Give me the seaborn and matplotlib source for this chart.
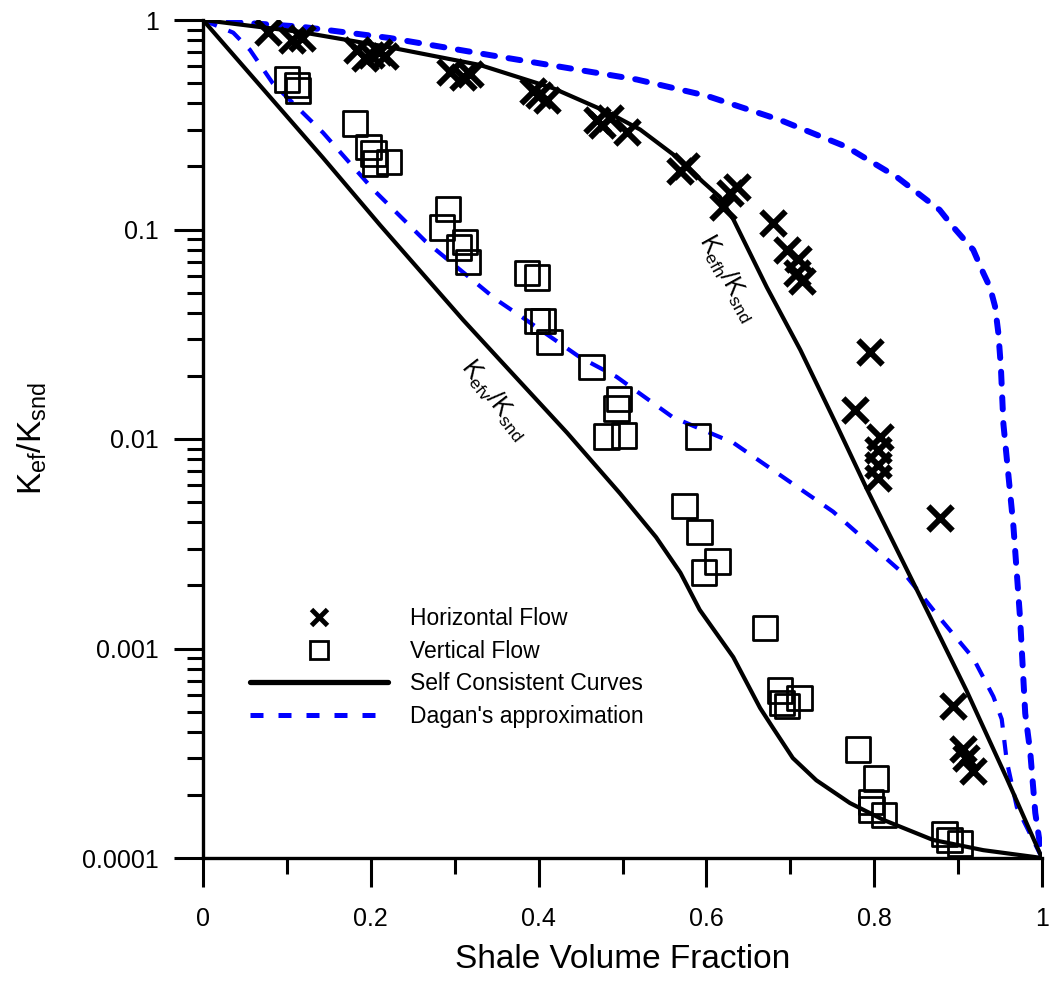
import matplotlib
matplotlib.use("Agg")
import matplotlib.pyplot as plt
import seaborn as sns
from matplotlib.lines import Line2D
from matplotlib.ticker import FixedLocator, FixedFormatter, LogLocator, NullFormatter, MultipleLocator

# ---------------- data ----------------
horiz_x = [0.077, 0.106, 0.118, 0.184, 0.193, 0.200, 0.210, 0.217,
           0.294, 0.310, 0.318, 0.393, 0.400, 0.410,
           0.470, 0.476, 0.485, 0.505, 0.568, 0.576,
           0.620, 0.628, 0.636, 0.679, 0.696, 0.709, 0.708, 0.714,
           0.795, 0.777, 0.807, 0.805, 0.804, 0.804, 0.878,
           0.894, 0.906, 0.918, 0.910]
horiz_y = [0.88, 0.80, 0.82, 0.72, 0.66, 0.68, 0.70, 0.67,
           0.565, 0.535, 0.55, 0.46, 0.44, 0.415,
           0.333, 0.315, 0.34, 0.292, 0.19, 0.20,
           0.128, 0.15, 0.16, 0.107, 0.080, 0.072, 0.062, 0.057,
           0.026, 0.0138, 0.0102, 0.0089, 0.0075, 0.0065, 0.0042,
           0.00053, 0.00033, 0.00026, 0.00030]

vert_x = [0.100, 0.112, 0.113, 0.181, 0.197, 0.203, 0.205, 0.222,
          0.292, 0.285, 0.312, 0.305, 0.316, 0.386, 0.398,
          0.398, 0.405, 0.413, 0.463, 0.496, 0.493, 0.481, 0.502,
          0.590, 0.574, 0.592, 0.597, 0.613, 0.670,
          0.688, 0.711, 0.696, 0.690,
          0.781, 0.802, 0.797, 0.796, 0.812,
          0.884, 0.890, 0.902]
vert_y = [0.52, 0.49, 0.46, 0.32, 0.248, 0.23, 0.207, 0.21,
          0.125, 0.102, 0.087, 0.082, 0.070, 0.062, 0.059,
          0.0366, 0.0366, 0.029, 0.022, 0.0155, 0.014, 0.0103, 0.0104,
          0.0103, 0.0048, 0.0036, 0.0023, 0.0026, 0.00125,
          0.00063, 0.00058, 0.00053, 0.00055,
          0.00033, 0.00024, 0.00017, 0.000185, 0.00016,
          0.00013, 0.000122, 0.000117]

sc_h_x = [0.0, 0.116, 0.223, 0.33, 0.417, 0.481, 0.521, 0.569, 0.595, 0.616,
          0.632, 0.648, 0.672, 0.712, 0.755, 0.791, 0.851, 0.91, 0.958, 1.0]
sc_h_y = [1.0, 0.877, 0.74, 0.61, 0.473, 0.365, 0.30, 0.215, 0.17, 0.143,
          0.112, 0.083, 0.053, 0.0266, 0.0117, 0.0058, 0.0019, 0.00063, 0.00024, 0.0001]

sc_v_x = [0.0, 0.143, 0.211, 0.31, 0.354, 0.41, 0.434, 0.497, 0.54, 0.569,
          0.592, 0.632, 0.664, 0.679, 0.703, 0.731, 0.771, 0.811, 0.87, 0.93, 1.0]
sc_v_y = [1.0, 0.22, 0.105, 0.037, 0.0238, 0.0136, 0.0107, 0.0055, 0.0034, 0.0023,
          0.00153, 0.00091, 0.00052, 0.00042, 0.0003, 0.000235, 0.000183, 0.000152,
          0.000122, 0.000109, 0.0001]

dg_h_x = [0.0, 0.116, 0.223, 0.342, 0.517, 0.6, 0.688, 0.767, 0.827, 0.878,
          0.894, 0.918, 0.93, 0.938, 0.944, 0.948, 0.951, 0.954, 0.966, 0.974,
          0.98, 0.986, 0.992, 1.0]
dg_h_y = [1.0, 0.93, 0.82, 0.68, 0.52, 0.435, 0.333, 0.248, 0.178, 0.124,
          0.103, 0.08, 0.062, 0.053, 0.043, 0.032, 0.022, 0.0118, 0.0038, 0.00137,
          0.00049, 0.00032, 0.000164, 0.0001]

dg_v_x = [0.0, 0.036, 0.056, 0.083, 0.143, 0.203, 0.265, 0.342, 0.354, 0.381,
          0.449, 0.493, 0.56, 0.632, 0.751, 0.839, 0.878, 0.918, 0.942, 0.952,
          0.958, 0.97, 1.0]
dg_v_y = [1.0, 0.87, 0.72, 0.5, 0.29, 0.155, 0.088, 0.049, 0.045, 0.038,
          0.0246, 0.0198, 0.0127, 0.0096, 0.0045, 0.0022, 0.0014, 0.0009, 0.00059, 0.00046,
          0.00029, 0.000175, 0.0001]

x_ticks = [0, 0.2, 0.4, 0.6, 0.8, 1.0]
x_tick_labels = ["0", "0.2", "0.4", "0.6", "0.8", "1"]
y_ticks = [1e-4, 1e-3, 1e-2, 1e-1, 1]
y_tick_labels = ["0.0001", "0.001", "0.01", "0.1", "1"]

legend_labels = ["Horizontal Flow", "Vertical Flow", "Self Consistent Curves",
                 "Dagan's approximation"]

# ---------------- style ----------------
sns.set_theme(style="ticks", rc={
    "axes.edgecolor": "black", "xtick.color": "black", "ytick.color": "black",
    "text.color": "black", "axes.labelcolor": "black",
})
plt.rcParams["font.family"] = ["Liberation Sans", "DejaVu Sans"]
plt.rcParams["mathtext.default"] = "regular"

W, H = 1050, 984
fig = plt.figure(figsize=(W / 100, H / 100), dpi=100)
ax = fig.add_axes([203 / W, 1 - 858 / H, 839 / W, 838 / H])
ax.set_yscale("log")

BLUE = "#0000FF"

sns.lineplot(x=dg_h_x, y=dg_h_y, ax=ax, color=BLUE, linewidth=4.3,
             linestyle=(0, (2.0, 2.3)), dash_capstyle="round",
             estimator=None, sort=False)
sns.lineplot(x=dg_v_x, y=dg_v_y, ax=ax, color=BLUE, linewidth=3.0,
             linestyle=(0, (3.6, 3.0)), estimator=None, sort=False)
sns.lineplot(x=sc_h_x, y=sc_h_y, ax=ax, color="black", linewidth=3.0,
             estimator=None, sort=False)
sns.lineplot(x=sc_v_x, y=sc_v_y, ax=ax, color="black", linewidth=3.0,
             estimator=None, sort=False)

sns.scatterplot(x=horiz_x, y=horiz_y, ax=ax, marker="x", color="black",
                s=17.5 ** 2, linewidth=4.3, zorder=5)
sns.scatterplot(x=vert_x, y=vert_y, ax=ax, marker="s", color="black",
                facecolor="none", edgecolor="black", s=17.6 ** 2,
                linewidth=2.0, zorder=5)

ax.set_xlim(0, 1)
ax.set_ylim(1e-4, 1)

# spines / ticks
for side in ["top", "right"]:
    ax.spines[side].set_visible(False)
for side in ["left", "bottom"]:
    ax.spines[side].set_linewidth(2.4)
    ax.spines[side].set_color("black")

ax.xaxis.set_major_locator(FixedLocator(x_ticks))
ax.xaxis.set_major_formatter(FixedFormatter(x_tick_labels))
ax.xaxis.set_minor_locator(MultipleLocator(0.1))
ax.yaxis.set_major_locator(FixedLocator(y_ticks))
ax.yaxis.set_major_formatter(FixedFormatter(y_tick_labels))
ax.yaxis.set_minor_locator(LogLocator(base=10, subs=range(2, 10), numticks=20))
ax.yaxis.set_minor_formatter(NullFormatter())

ax.tick_params(which="major", direction="out", length=21, width=2.2, labelsize=18)
ax.tick_params(which="minor", direction="out", length=11.5, width=2.2)
ax.tick_params(axis="x", which="major", pad=14)
ax.tick_params(axis="y", which="major", pad=11)

ax.set_xlabel("Shale Volume Fraction", fontsize=24, va="center")
ax.xaxis.set_label_coords(0.5, -(960 - 858) / 838)
ax.set_ylabel(r"$\mathregular{K_{ef}/K_{snd}}$", fontsize=24, va="center", ha="center")
ax.yaxis.set_label_coords((32 - 203) / 839, 0.5)

# curve labels
ax.text(0.626, 0.0587, r"$\mathregular{K_{efh}/K_{snd}}$", fontsize=18,
        rotation=-61, ha="center", va="center", rotation_mode="anchor")
ax.text(0.348, 0.01535, r"$\mathregular{K_{efv}/K_{snd}}$", fontsize=18,
        rotation=-52, ha="center", va="center", rotation_mode="anchor")

# legend
handles = [
    Line2D([], [], marker="x", color="black", linestyle="none",
           markersize=11, markeredgewidth=3.5),
    Line2D([], [], marker="s", markerfacecolor="none", markeredgecolor="black",
           linestyle="none", markersize=13, markeredgewidth=2.0),
    Line2D([], [], color="black", linewidth=3.8, solid_capstyle="round"),
    Line2D([], [], color=BLUE, linewidth=3.6, linestyle=(0, (2.6, 3.0))),
]
leg = ax.legend(handles, legend_labels, loc="upper left",
                bbox_to_anchor=(250 / W, 1 - 607 / H), bbox_transform=fig.transFigure,
                frameon=False, fontsize=16.5, handlelength=6.0, handletextpad=1.0,
                labelspacing=0.42, borderpad=0, borderaxespad=0)

fig.savefig("out.png", dpi=100)
